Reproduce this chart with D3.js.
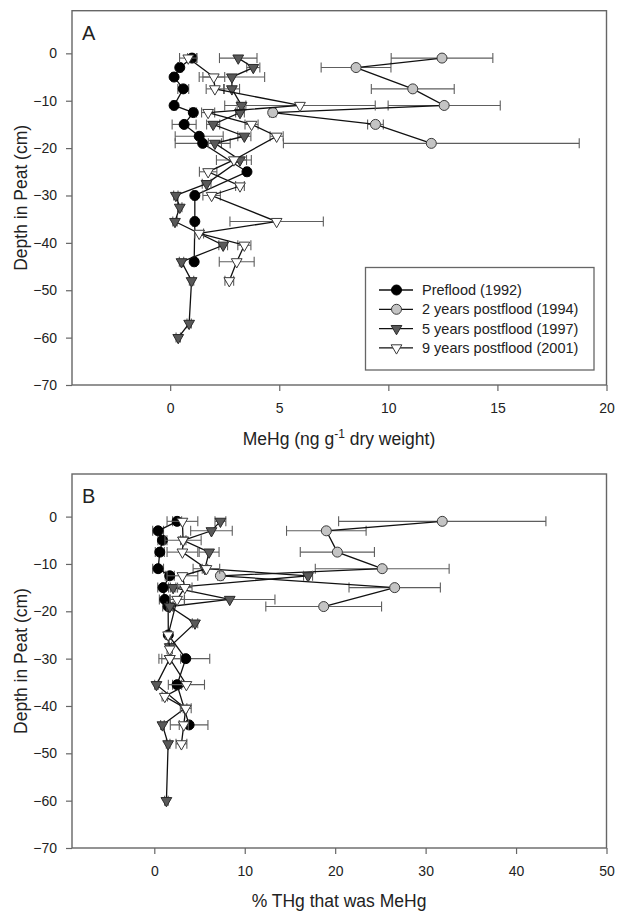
<!DOCTYPE html>
<html>
<head>
<meta charset="utf-8">
<script src="https://cdn.jsdelivr.net/npm/d3@7"></script>
<style>
  body { margin: 0; background: #fff; }
  svg { display: block; font-family: "Liberation Sans", Arial, Helvetica, sans-serif; }
</style>
</head>
<body>
<svg id="chart" width="618" height="913"></svg>
<script>
// Sample depths (cm) for each sampling campaign
const depthPreflood = [-1, -3, -5, -7.5, -11, -12.5, -15, -17.5, -19, -25, -30, -35.5, -44];
const depthPost2 = [-1, -3, -7.5, -11, -12.5, -15, -19];
const depthPost5 = [-1, -3, -5, -7.5, -11, -12.5, -15, -17.5, -19, -22.5, -27.5, -30, -32.5, -35.5, -40.5, -44, -48, -57, -60];
const depthPost9 = [-1, -5, -7.5, -11, -12.5, -15, -17.5, -22.5, -25, -28, -30, -35.5, -38, -40.5, -44, -48];

// Panel A: MeHg (ng/g dry weight), mean and error half-width
const mehgPreflood = [1.0, 0.44, 0.18, 0.6, 0.18, 1.06, 0.64, 1.33, 1.49, 3.52, 1.13, 1.13, 1.10];
const mehgPrefloodErr = [0.2, 0.1, 0.1, 0.25, 0.1, 0.15, 0.55, 1.1, 1.26, 0.1, 0.1, 0.1, 0.1];
const mehgPost2 = [12.46, 8.52, 11.12, 12.56, 4.70, 9.41, 11.97];
const mehgPost2Err = [2.33, 1.6, 1.9, 2.57, 0.15, 0.36, 6.78];
const mehgPost5 = [3.12, 3.81, 2.83, 2.83, 3.27, 3.2, 1.97, 3.4, 2.05, 3.2, 1.67, 0.26, 0.44, 0.22, 2.43, 0.52, 0.98, 0.87, 0.37];
const mehgPost5Err = [0.86, 0.3, 1.5, 0.35, 0.2, 0.2, 0.3, 0.3, 0.3, 0.3, 0.2, 0.1, 0.1, 0.1, 0.2, 0.1, 0.1, 0.1, 0.1];
const mehgPost9 = [0.83, 2.0, 2.05, 5.95, 1.74, 3.73, 4.88, 2.92, 1.74, 3.2, 1.9, 4.88, 1.33, 3.4, 3.05, 2.71];
const mehgPost9Err = [0.4, 0.5, 0.4, 3.45, 0.3, 0.3, 0.3, 0.8, 0.4, 0.2, 0.4, 2.14, 0.2, 0.3, 0.8, 0.2];

// Panel B: % of total Hg present as MeHg, mean and error half-width
const pctPreflood = [2.52, 0.42, 0.90, 0.61, 0.42, 1.71, 0.98, 1.16, 1.53, 1.55, 3.48, 2.52, 3.85];
const pctPrefloodErr = [0.5, 0.6, 0.5, 0.5, 0.6, 0.5, 0.6, 0.6, 0.6, 0.3, 2.65, 0.5, 2.08];
const pctPost2 = [31.84, 19.02, 20.24, 25.2, 7.31, 26.58, 18.73];
const pctPost2Err = [11.46, 4.4, 4.1, 7.4, 0.3, 5.05, 6.4];
const pctPost5 = [7.31, 6.32, 3.2, 6.06, 5.6, 17.0, 2.08, 8.34, 1.71, 4.5, 1.71, 1.71, null, 0.24, 3.4, 0.9, 1.53, null, 1.34];
const pctPost5Err = [0.6, 2.3, 0.3, 1.1, 0.3, 0.5, 0.3, 5.0, 0.3, 0.3, 0.2, 0.2, 0, 0.2, 0.2, 0.2, 0.2, 0, 0.2];
const pctPost9 = [3.11, 3.18, 3.11, 5.76, 3.11, 3.37, 2.52, null, 1.53, 1.71, 1.71, 3.55, 1.16, 3.48, 3.26, 3.0];
const pctPost9Err = [1.7, 2.0, 1.7, 1.47, 1.7, 0.8, 0.8, 0, 0.3, 0.3, 1.2, 2.0, 0.3, 0.6, 0.5, 0.6];

// Legend labels and tick values
const seriesLabels = ["Preflood (1992)", "2 years postflood (1994)", "5 years postflood (1997)", "9 years postflood (2001)"];
const depthTicks = [0, -10, -20, -30, -40, -50, -60, -70];
const mehgTicks = [0, 5, 10, 15, 20];
const pctTicks = [0, 10, 20, 30, 40, 50];

// Marker styles per series
const styles = [
  { shape: "circle", fill: "#000000", stroke: "#000000" },
  { shape: "circle", fill: "#c4c4c4", stroke: "#3a3a3a" },
  { shape: "triangle", fill: "#595959", stroke: "#2a2a2a" },
  { shape: "triangle", fill: "#ffffff", stroke: "#3a3a3a" }
];

const svg = d3.select("#chart");
const frameColor = "#666";

function zip(depths, vals, errs) {
  return depths.map((d, i) => ({ depth: d, v: vals[i], e: errs[i] })).filter(p => p.v !== null);
}

const triPath = d3.symbol().type(d3.symbolTriangle).size(50)();

function drawMarker(g, style, x, y) {
  if (style.shape === "circle") {
    g.append("circle").attr("cx", x).attr("cy", y).attr("r", 5)
      .attr("fill", style.fill).attr("stroke", style.stroke).attr("stroke-width", 1);
  } else {
    g.append("path").attr("d", triPath)
      .attr("transform", `translate(${x},${y}) rotate(180)`)
      .attr("fill", style.fill).attr("stroke", style.stroke).attr("stroke-width", 1);
  }
}

function drawPanel(cfg) {
  const x = d3.scaleLinear().domain(cfg.xDomain).range([72, 606.5]);
  const y = d3.scaleLinear().domain([-70, 9]).range([cfg.bottom, cfg.top]);
  const g = svg.append("g");

  // y axis with outward ticks
  const yAxis = d3.axisLeft(y).tickValues(depthTicks).tickSize(6).tickPadding(9).tickSizeOuter(0);
  const ya = g.append("g").attr("transform", "translate(72,0)").call(yAxis);
  // x axis with outward ticks
  const xAxis = d3.axisBottom(x).tickValues(cfg.xTicks).tickSize(6).tickPadding(12).tickSizeOuter(0);
  const xa = g.append("g").attr("transform", `translate(0,${cfg.bottom})`).call(xAxis);
  [ya, xa].forEach(a => {
    a.select(".domain").remove();
    a.selectAll(".tick line").attr("stroke", frameColor).attr("stroke-width", 1.2);
    a.selectAll(".tick text").attr("fill", "#222").style("font-size", "14px")
      .style("font-family", '"Liberation Sans", Arial, sans-serif');
  });

  // frame
  g.append("rect").attr("x", 72).attr("y", cfg.top).attr("width", 606.5 - 72).attr("height", cfg.bottom - cfg.top)
    .attr("fill", "none").attr("stroke", frameColor).attr("stroke-width", 1.4);

  // panel letter
  g.append("text").attr("x", 82).attr("y", cfg.top + 29).text(cfg.letter)
    .style("font-size", "20px").attr("fill", "#222");

  // y title
  const cy = (cfg.top + cfg.bottom) / 2;
  g.append("text").attr("transform", `translate(27,${cy}) rotate(-90)`).attr("text-anchor", "middle")
    .style("font-size", "17.5px").attr("fill", "#222").text("Depth in Peat (cm)");

  // x title
  const xt = g.append("text").attr("x", 339).attr("y", cfg.bottom + cfg.titleOffset).attr("text-anchor", "middle")
    .style("font-size", "17.5px").attr("fill", "#222");
  cfg.xTitle(xt);

  const line = d3.line().x(p => x(p.v)).y(p => y(p.depth));

  cfg.series.forEach((s, si) => {
    const st = styles[si];
    const sg = g.append("g");
    // error bars
    s.forEach(p => {
      if (!p.e) return;
      const x0 = x(p.v - p.e), x1 = x(p.v + p.e), yy = y(p.depth);
      sg.append("line").attr("x1", x0).attr("x2", x1).attr("y1", yy).attr("y2", yy)
        .attr("stroke", "#5e5e5e").attr("stroke-width", 1.1);
      [x0, x1].forEach(xx => sg.append("line").attr("x1", xx).attr("x2", xx).attr("y1", yy - 5).attr("y2", yy + 5)
        .attr("stroke", "#5e5e5e").attr("stroke-width", 1.1));
    });
    // connecting line
    sg.append("path").attr("d", line(s)).attr("fill", "none").attr("stroke", "#111").attr("stroke-width", 1.3);
    // markers
    s.forEach(p => drawMarker(sg, st, x(p.v), y(p.depth)));
  });

  if (cfg.legend) {
    const lg = g.append("g");
    lg.append("rect").attr("x", 365.5).attr("y", 267.5).attr("width", 228.5).attr("height", 102.5)
      .attr("fill", "#fff").attr("stroke", frameColor).attr("stroke-width", 1.3);
    seriesLabels.forEach((lab, i) => {
      const ly = 290 + i * 19.3;
      lg.append("line").attr("x1", 379).attr("x2", 413).attr("y1", ly).attr("y2", ly)
        .attr("stroke", "#111").attr("stroke-width", 1.3);
      drawMarker(lg, styles[i], 396.5, ly);
      lg.append("text").attr("x", 422).attr("y", ly).attr("dy", "0.35em")
        .style("font-size", "14.5px").attr("fill", "#222").text(lab);
    });
  }
}

drawPanel({
  letter: "A", top: 10.7, bottom: 385, xDomain: [-4.5, 20], xTicks: mehgTicks, titleOffset: 60,
  legend: true,
  xTitle: t => {
    t.append("tspan").text("MeHg (ng g");
    t.append("tspan").attr("dy", -7).style("font-size", "12px").text("-1");
    t.append("tspan").attr("dy", 7).text(" dry weight)");
  },
  series: [
    zip(depthPreflood, mehgPreflood, mehgPrefloodErr),
    zip(depthPost2, mehgPost2, mehgPost2Err),
    zip(depthPost5, mehgPost5, mehgPost5Err),
    zip(depthPost9, mehgPost9, mehgPost9Err)
  ]
});

drawPanel({
  letter: "B", top: 474, bottom: 848, xDomain: [-9.1, 50], xTicks: pctTicks, titleOffset: 59,
  legend: false,
  xTitle: t => t.text("% THg that was MeHg"),
  series: [
    zip(depthPreflood, pctPreflood, pctPrefloodErr),
    zip(depthPost2, pctPost2, pctPost2Err),
    zip(depthPost5, pctPost5, pctPost5Err),
    zip(depthPost9, pctPost9, pctPost9Err)
  ]
});
</script>
</body>
</html>
